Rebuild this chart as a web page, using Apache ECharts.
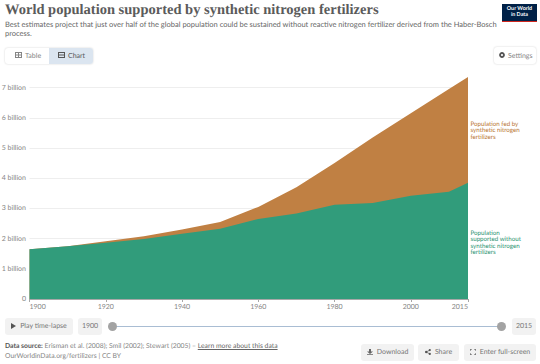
<!DOCTYPE html>
<html>
<head>
<meta charset="utf-8">
<script src="https://cdn.jsdelivr.net/npm/echarts@6/dist/echarts.min.js"></script>
<style>
html, body { margin: 0; padding: 0; background: #fff; }
body { width: 540px; height: 364px; overflow: hidden; position: relative; font-family: Lato, sans-serif; text-rendering: geometricPrecision; }
#main { position: absolute; left: 0; top: 0; width: 540px; height: 364px; }
.t { position: absolute; white-space: nowrap; }
.btn { position: absolute; background: #f2f2f2; border-radius: 3px; color: #777; font-size: 7px; line-height: 17px; height: 17px; text-align: center; box-sizing: border-box; white-space: nowrap; }
.btn svg { vertical-align: -1px; margin-right: 4px; }
</style>
</head>
<body>
<div id="main"></div>

<div class="t" style="left:5px;top:0px;font:bold 14.5px/20px 'Liberation Serif',serif;color:#5b5b5b;">World population supported by synthetic nitrogen fertilizers</div>
<div class="t" style="left:5px;top:19.5px;font-size:7.5px;line-height:9.4px;color:#666">Best estimates project that just over half of the global population could be sustained without reactive nitrogen fertilizer derived from the Haber-Bosch<br>process.</div>

<div style="position:absolute;left:502px;top:4px;width:35px;height:18px;background:#002147;border-bottom:1.5px solid #ce261e;color:#fff;font:bold 5.4px/6px Lato,sans-serif;text-align:center;padding-top:2px;box-sizing:border-box">Our World<br>in Data</div>

<div style="position:absolute;left:5px;top:48px;width:88px;height:16px;border-radius:3px;box-shadow:0 0 2px rgba(0,0,0,.2);background:#fff"></div>
<div class="t" style="left:49px;top:48px;width:44px;height:16px;background:#dbe5f0;border-radius:0 3px 3px 0"></div>
<div class="t" style="left:15px;top:50.5px;font-size:7px;line-height:11px;color:#858585"><svg width="7" height="6" style="margin-right:3px"><rect x=".5" y=".5" width="6" height="5" fill="none" stroke="#858585"/><path d="M0 3H7M3.5 0V6" stroke="#858585"/></svg>Table</div>
<div class="t" style="left:58px;top:50.5px;font-size:7px;line-height:11px;color:#555"><svg width="7" height="6" style="margin-right:3px"><rect x=".5" y=".5" width="6" height="5" fill="none" stroke="#555"/><path d="M0 3H7" stroke="#555"/></svg>Chart</div>

<div style="position:absolute;left:494px;top:47px;width:42px;height:17px;border-radius:3px;box-shadow:0 0 2px rgba(0,0,0,.2);background:#fff"></div>
<div class="t" style="left:499px;top:50.5px;font-size:7px;line-height:11px;color:#858585"><svg width="6" height="6" style="margin-right:3px"><circle cx="3" cy="3" r="2" fill="none" stroke="#555" stroke-width="1.8"/></svg>Settings</div>

<div class="btn" style="left:5px;top:318px;width:68px">
<svg width="5" height="6"><path d="M0 0L5 3L0 6Z" fill="#555"/></svg>Play time-lapse</div>
<div class="btn" style="left:78px;top:318px;width:24px">1900</div>
<div class="btn" style="left:512px;top:318px;width:24px">2015</div>
<div style="position:absolute;left:112px;top:325.5px;width:390px;height:1px;background:#a9bdd3"></div>
<div style="position:absolute;left:108px;top:322px;width:9px;height:9px;border-radius:50%;background:#a3a3a3"></div>
<div style="position:absolute;left:497px;top:322px;width:9px;height:9px;border-radius:50%;background:#a3a3a3"></div>

<div class="t" style="left:5px;top:341px;font-size:6.8px;line-height:11px;color:#858585"><b style="color:#555">Data source:</b> Erisman et al. (2008); Smil (2002); Stewart (2005) – <span style="text-decoration:underline;color:#666">Learn more about this data</span></div>
<div class="t" style="left:5px;top:351px;font-size:6.8px;line-height:11px;color:#858585">OurWorldinData.org/fertilizers | CC BY</div>

<div class="btn" style="left:361px;top:344px;width:53px"><svg width="6" height="6"><path d="M2 0H4V2.5H6L3 5L0 2.5H2ZM0 5.2H6V6H0Z" fill="#666"/></svg>Download</div>
<div class="btn" style="left:418px;top:344px;width:41px"><svg width="6" height="6"><circle cx="1.2" cy="3" r="1.2" fill="#555"/><circle cx="4.8" cy="1.1" r="1.1" fill="#555"/><circle cx="4.8" cy="4.9" r="1.1" fill="#555"/><path d="M1.2 3L4.8 1.1M1.2 3L4.8 4.9" stroke="#555" stroke-width=".7"/></svg>Share</div>
<div class="btn" style="left:464px;top:344px;width:72px"><svg width="6" height="6"><path d="M0 2V0H2M4 0H6V2M6 4V6H4M2 6H0V4" fill="none" stroke="#555"/></svg>Enter full-screen</div>

<script>
var years = [1900, 1910, 1920, 1930, 1940, 1950, 1960, 1970, 1980, 1990, 2000, 2010, 2015];
// billions. total is drawn first, green sits on top of it
var without = [1.65, 1.75, 1.86, 1.99, 2.16, 2.33, 2.65, 2.83, 3.12, 3.18, 3.42, 3.55, 3.85];
var total = [1.65, 1.75, 1.91, 2.08, 2.30, 2.55, 3.05, 3.70, 4.50, 5.35, 6.15, 6.95, 7.35];
var xTicks = [1900, 1920, 1940, 1960, 1980, 2000, 2015];
var yTicks = [0, 1, 2, 3, 4, 5, 6, 7];

function pairs(values) {
	return years.map(function (y, i) { return [y, values[i]]; });
}

var myChart = echarts.init(document.getElementById('main'), null, { renderer: 'svg' });
var option = {
	animation: false,
	grid: { left: 29.5, right: 72, top: 57.4, bottom: 65, outerBoundsMode: 'none' },
	xAxis: {
		type: 'value',
		min: 1900,
		max: 2015,
		axisLine: { show: true, lineStyle: { color: '#a8a8a8', width: 1 } },
		axisTick: { show: true, length: 3, lineStyle: { color: '#a8a8a8' }, customValues: xTicks },
		axisLabel: {
			customValues: xTicks,
			color: '#858585',
			fontFamily: 'Lato',
			fontSize: 7,
			margin: 4.5,
			alignMinLabel: 'left',
			alignMaxLabel: 'right',
			formatter: function (v) { return String(v); }
		},
		splitLine: { show: false }
	},
	yAxis: {
		type: 'value',
		min: 0,
		max: 8,
		interval: 1,
		axisLine: { show: false },
		axisTick: { show: false },
		axisLabel: {
			customValues: yTicks,
			color: '#858585',
			fontFamily: 'Lato',
			fontSize: 7,
			margin: 3.5,
			formatter: function (v) { return v === 0 ? '0' : v + ' billion'; }
		},
		splitLine: { show: true, showMaxLine: false, lineStyle: { color: '#eeeeee', width: 1 } }
	},
	series: [
		{
			name: 'Population fed by synthetic nitrogen fertilizers',
			type: 'line',
			data: pairs(total),
			showSymbol: false,
			lineStyle: { width: 0 },
			areaStyle: { color: '#c08043', opacity: 1 }
		},
		{
			name: 'Population supported without synthetic nitrogen fertilizers',
			type: 'line',
			data: pairs(without),
			showSymbol: false,
			lineStyle: { width: 0 },
			areaStyle: { color: '#319c7b', opacity: 1 }
		}
	],
	graphic: [
		{
			type: 'text',
			left: 470.5,
			top: 121,
			style: {
				text: 'Population fed by\nsynthetic nitrogen\nfertilizers',
				fill: '#b8742f',
				font: '6.2px Lato',
				lineHeight: 6.4
			}
		},
		{
			type: 'text',
			left: 470.5,
			top: 230,
			style: {
				text: 'Population\nsupported without\nsynthetic nitrogen\nfertilizers',
				fill: '#1f9270',
				font: '6.2px Lato',
				lineHeight: 6.4
			}
		}
	]
};
option && myChart.setOption(option);
</script>
</body>
</html>
